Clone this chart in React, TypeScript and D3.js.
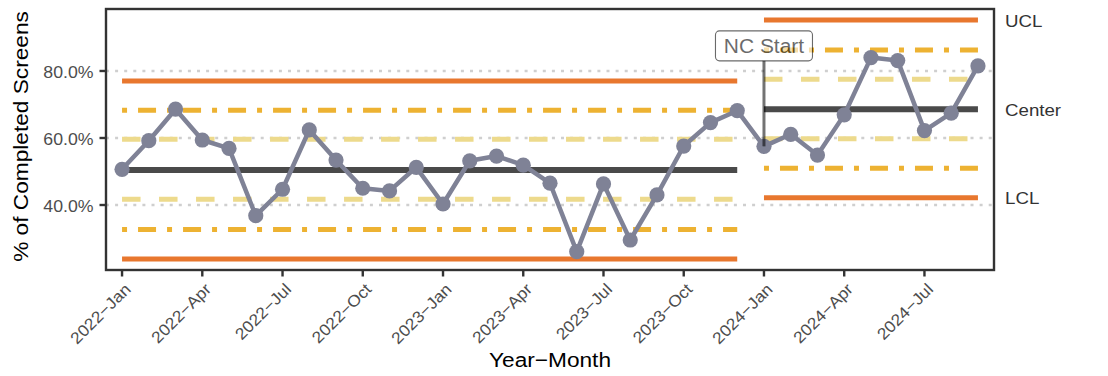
import React from "react";
import * as d3 from "d3";

const months = [
  "2022−Jan", "2022−Feb", "2022−Mar", "2022−Apr", "2022−May", "2022−Jun",
  "2022−Jul", "2022−Aug", "2022−Sep", "2022−Oct", "2022−Nov", "2022−Dec",
  "2023−Jan", "2023−Feb", "2023−Mar", "2023−Apr", "2023−May", "2023−Jun",
  "2023−Jul", "2023−Aug", "2023−Sep", "2023−Oct", "2023−Nov", "2023−Dec",
  "2024−Jan", "2024−Feb", "2024−Mar", "2024−Apr", "2024−May", "2024−Jun",
  "2024−Jul", "2024−Aug", "2024−Sep",
];
const pct = [
  50.65, 59.2, 68.6, 59.4, 56.9, 36.8, 44.7, 62.4, 53.4, 45.0, 44.2, 51.25,
  40.3, 53.2, 54.6, 51.9, 46.5, 26.1, 46.3, 29.55, 43.0, 57.6, 64.6, 68.15,
  57.5, 61.1, 54.9, 66.9, 84.0, 83.1, 62.2, 67.4, 81.5,
];
const phaseStart = ["2022−Jan", "2024−Jan"];
const phaseEnd = ["2023−Dec", "2024−Sep"];
const centerVals = [50.45, 68.6];
const uclVals = [77.0, 95.2];
const lclVals = [23.9, 42.2];
const upper2Vals = [68.3, 86.3];
const lower2Vals = [32.7, 51.0];
const upper1Vals = [59.6, 77.5];
const lower1Vals = [41.7, 59.8];
const yTicks = [40, 60, 80];
const xTicks = [
  "2022−Jan", "2022−Apr", "2022−Jul", "2022−Oct", "2023−Jan", "2023−Apr",
  "2023−Jul", "2023−Oct", "2024−Jan", "2024−Apr", "2024−Jul",
];
const rightLabels = ["UCL", "Center", "LCL"];
const ncMonth = "2024−Jan";
const ncLabel = "NC Start";
const ncLabelY = 87.5;

const W = 1108;
const H = 376;
const P = { l: 106, r: 994, t: 9, b: 270 };
const FONT = "'Liberation Sans', Arial, Helvetica, sans-serif";
const SX = 1.08;

const C = {
  line: "#7F8296",
  ucl: "#E8772E",
  center: "#4A4A4A",
  sig2: "#EDB232",
  sig1: "#EDDA8C",
  grid: "#CFCFCF",
  axis: "#333333",
  tick: "#4D4D4D",
};

function Txt(props: {
  x: number; y: number; rot?: number; anchor?: string; size: number;
  fill?: string; children: React.ReactNode; dy?: string;
}) {
  const { x, y, rot = 0, anchor = "start", size, fill = "#000", children, dy } = props;
  return (
    <text
      transform={`translate(${x},${y}) rotate(${rot}) scale(${SX},1)`}
      textAnchor={anchor}
      fontSize={size}
      fill={fill}
      fontFamily={FONT}
      dy={dy}
    >
      {children}
    </text>
  );
}

export default function App() {
  const x = d3.scalePoint<string>().domain(months).range([P.l, P.r]).padding(0.6);
  const y = d3.scaleLinear().domain([20.6, 98.5]).range([P.b, P.t]);

  const pts = months.map((m, i) => ({ m, v: pct[i] }));
  const lineGen = d3
    .line<{ m: string; v: number }>()
    .x((d) => x(d.m) as number)
    .y((d) => y(d.v));

  const limitRows: { vals: number[]; color: string; width: number; dash?: string }[] = [
    { vals: upper1Vals, color: C.sig1, width: 5, dash: "18.5 18.5" },
    { vals: lower1Vals, color: C.sig1, width: 5, dash: "18.5 18.5" },
    { vals: upper2Vals, color: C.sig2, width: 5, dash: "5 11 18 11" },
    { vals: lower2Vals, color: C.sig2, width: 5, dash: "5 11 18 11" },
    { vals: uclVals, color: C.ucl, width: 5 },
    { vals: lclVals, color: C.ucl, width: 5 },
    { vals: centerVals, color: C.center, width: 6 },
  ];

  const ncX = x(ncMonth) as number;
  const ncV = pct[months.indexOf(ncMonth)];
  const boxW = 97;
  const boxH = 30;
  const boxCY = y(ncLabelY);

  const lastPhase = phaseStart.length - 1;
  const rightVals = [uclVals[lastPhase], centerVals[lastPhase], lclVals[lastPhase]];

  return (
    <svg
      width={W}
      height={H}
      style={{ position: "absolute", left: 0, top: 0, background: "#fff" }}
    >
      <rect x={0} y={0} width={W} height={H} fill="#fff" />
      {yTicks.map((t) => (
        <line
          key={"g" + t}
          x1={P.l}
          x2={P.r}
          y1={y(t)}
          y2={y(t)}
          stroke={C.grid}
          strokeWidth={2.6}
          strokeDasharray="3 6.1"
        />
      ))}
      {limitRows.map((row, ri) =>
        phaseStart.map((s, pi) => (
          <line
            key={`l${ri}-${pi}`}
            x1={x(s)}
            x2={x(phaseEnd[pi])}
            y1={y(row.vals[pi])}
            y2={y(row.vals[pi])}
            stroke={row.color}
            strokeWidth={row.width}
            strokeDasharray={row.dash}
          />
        ))
      )}
      <path d={lineGen(pts) || ""} fill="none" stroke={C.line} strokeWidth={4.5} strokeLinejoin="round" />
      {pts.map((d) => (
        <circle key={d.m} cx={x(d.m)} cy={y(d.v)} r={7.6} fill={C.line} />
      ))}
      <line
        x1={ncX}
        x2={ncX}
        y1={boxCY + boxH / 2}
        y2={y(ncV)}
        stroke="#000"
        strokeOpacity={0.55}
        strokeWidth={3}
      />
      <g opacity={0.58}>
        <rect
          x={ncX - boxW / 2}
          y={boxCY - boxH / 2}
          width={boxW}
          height={boxH}
          rx={4}
          fill="#fff"
          stroke="#000"
          strokeWidth={1.1}
        />
        <Txt x={ncX} y={boxCY + 6.8} anchor="middle" size={19.4} fill="#000">
          {ncLabel}
        </Txt>
      </g>
      <rect
        x={P.l}
        y={P.t}
        width={P.r - P.l}
        height={P.b - P.t}
        fill="none"
        stroke={C.axis}
        strokeWidth={2.4}
      />
      {yTicks.map((t) => (
        <g key={"y" + t}>
          <line x1={P.l - 6.5} x2={P.l} y1={y(t)} y2={y(t)} stroke={C.axis} strokeWidth={2.4} />
          <Txt x={93.5} y={y(t) + 6.6} anchor="end" size={16.4} fill={C.tick}>
            {d3.format(".1f")(t) + "%"}
          </Txt>
        </g>
      ))}
      {xTicks.map((m) => (
        <g key={"x" + m}>
          <line x1={x(m)} x2={x(m)} y1={P.b} y2={P.b + 6.5} stroke={C.axis} strokeWidth={2.4} />
          <Txt x={(x(m) as number) + 1.5} y={282} rot={-45} anchor="end" size={16.2} fill={C.tick} dy="0.72em">
            {m}
          </Txt>
        </g>
      ))}
      {rightLabels.map((lab, i) => (
        <Txt key={lab} x={1005} y={y(rightVals[i]) + 6.5} size={17.3} fill="#333">
          {lab}
        </Txt>
      ))}
      <Txt x={(P.l + P.r) / 2} y={366.5} anchor="middle" size={21} fill="#000">
        Year−Month
      </Txt>
      <Txt x={28} y={136.5} rot={-90} anchor="middle" size={21} fill="#000">
        % of Completed Screens
      </Txt>
    </svg>
  );
}
